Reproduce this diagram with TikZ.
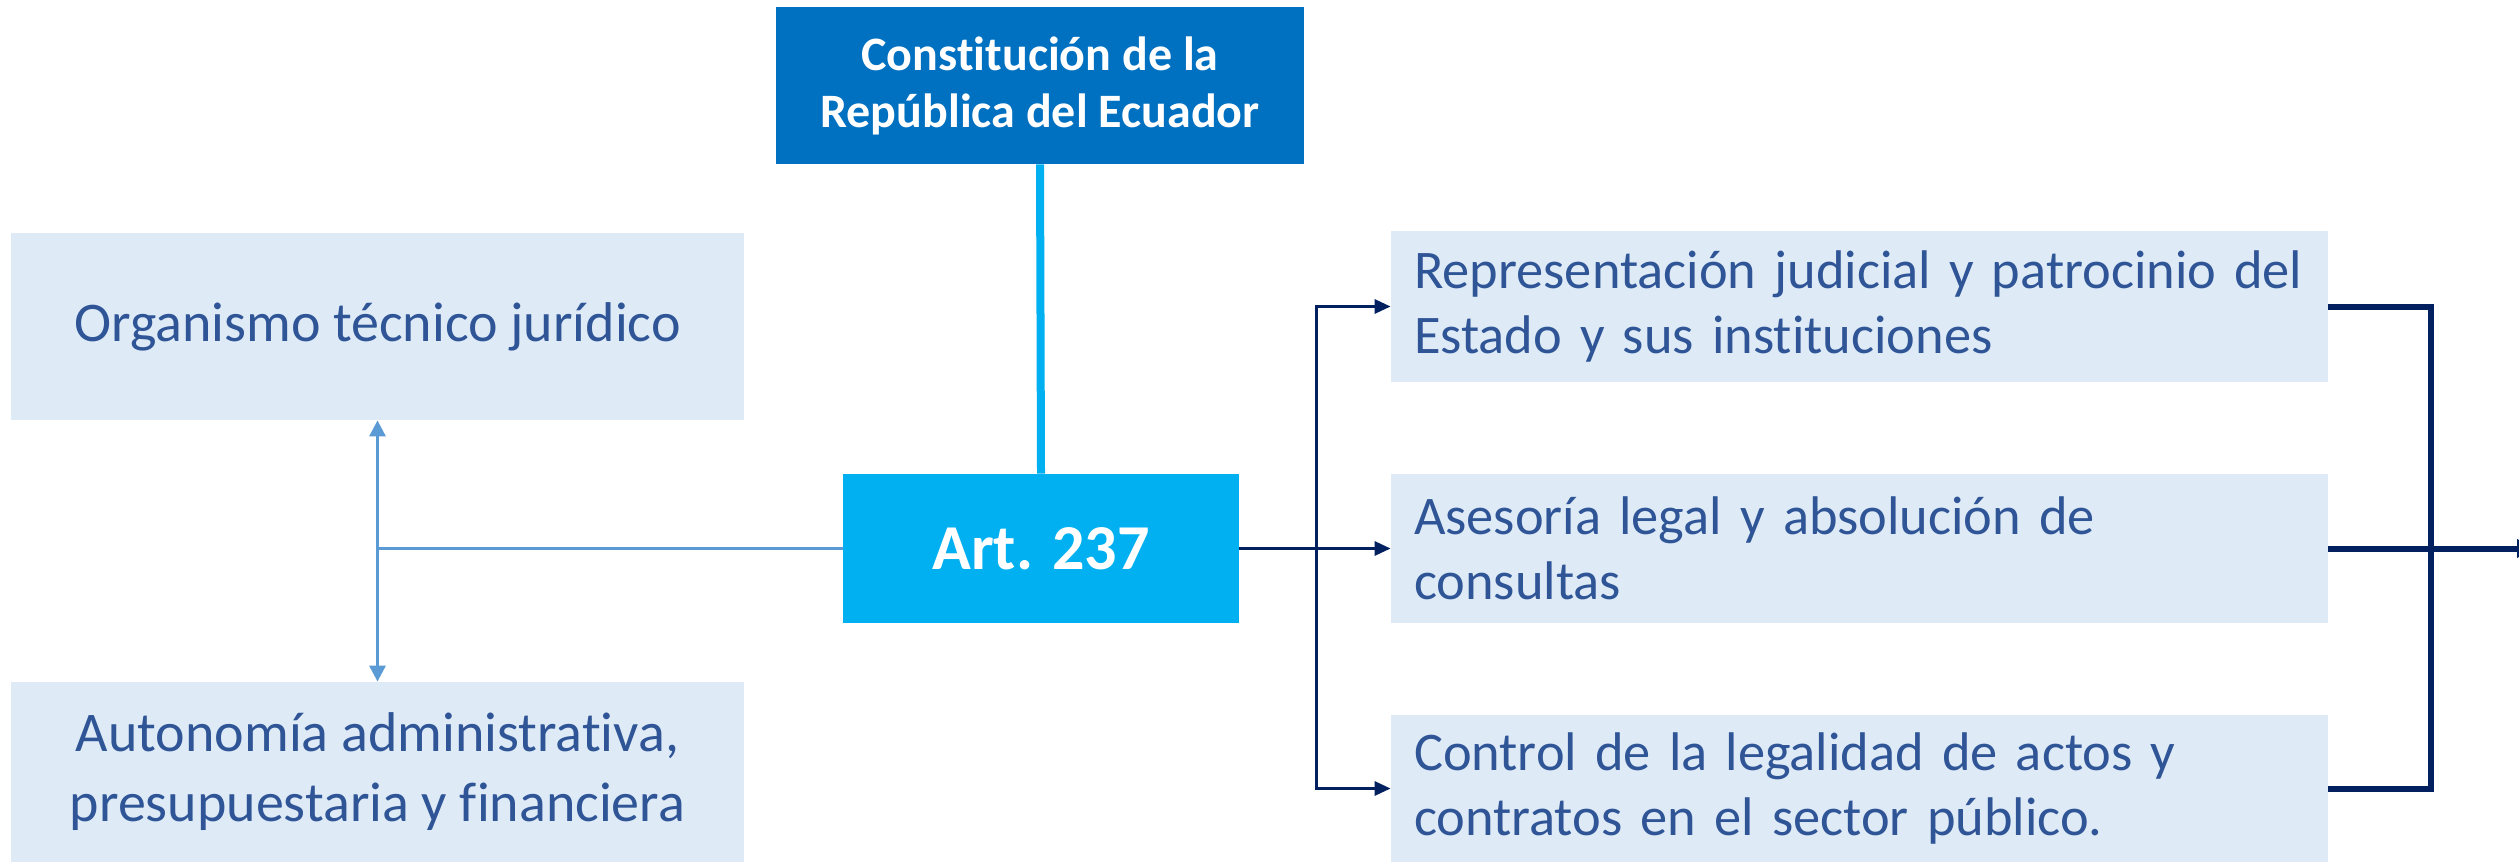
\documentclass[tikz,border=0pt]{standalone}
\usepackage{fontspec}
\setmainfont{Carlito}[Ligatures={NoCommon,NoDiscretionary,NoRare}]
\usetikzlibrary{arrows.meta}
\definecolor{topblue}{HTML}{0070C0}
\definecolor{artblue}{HTML}{00B0F0}
\definecolor{boxfill}{HTML}{DEEBF7}
\definecolor{boxtext}{HTML}{2F5597}
\definecolor{navy}{HTML}{002060}
\definecolor{lline}{HTML}{5B9BD5}
\tikzset{
  lbox/.style={fill=boxfill, text=boxtext, inner sep=0pt, align=center, font=\fontsize{28}{35}\selectfont},
  rbox/.style={fill=boxfill, text=boxtext, inner xsep=11.5pt, inner ysep=0pt, text width=445.5pt, align=left, font=\fontsize{27.2}{32.5}\selectfont},
  topbox/.style={fill=topblue, text=white, inner sep=0pt, align=center, font=\fontsize{24}{28.5}\selectfont\bfseries},
  artbox/.style={fill=artblue, text=white, inner sep=0pt, align=center, font=\fontsize{32}{38}\selectfont\bfseries},
  lconn/.style={draw=lline, line width=1.5pt},
  lhead/.style={-{Triangle[length=8pt,width=8pt]}},
  rconn/.style={draw=navy, line width=1.5pt},
  rhead/.style={-{Triangle[length=8pt,width=7pt]}},
  bconn/.style={draw=navy, line width=3pt, line join=miter},
}
\begin{document}
\begin{tikzpicture}[x=0.5pt,y=-0.5pt]
\useasboundingbox (0,0) rectangle (2519,862);
% nodes
\node[topbox, minimum width=264pt, minimum height=78.5pt] (top) at (1040,85.5) {Constitución de la\\República del Ecuador};
\node[artbox, minimum width=198pt, minimum height=74.5pt] (art) at (1041,548.5) {Art. 237};
\node[lbox, minimum width=366.5pt, minimum height=93.5pt] (org) at (377.5,326.5) {Organismo técnico jurídico};
\node[lbox, minimum width=366.5pt, minimum height=90pt] (aut) at (377.5,772) {Autonomía administrativa,\\presupuestaria y financiera};
\node[rbox, minimum height=75.5pt] (r1) at (1859.5,306.5) {\mbox{Representación judicial y patrocinio del}\\Estado y sus instituciones};
\node[rbox, minimum height=74.5pt] (r2) at (1859.5,548.5) {Asesoría legal y absolución de\\consultas};
\node[rbox, minimum height=73.5pt] (r3) at (1859.5,788.5) {Control de la legalidad de actos y\\contratos en el sector público.};
% connectors
\draw[draw=artblue, line width=4pt] (top.south) -- (art.north);
\coordinate (lj) at (org.south |- art.west);
\draw[lconn] (art.west) -- (lj);
\draw[lconn, lhead] (lj) -- (org.south);
\draw[lconn, lhead] (lj) -- (aut.north);
\coordinate (rj) at (1316,548.5);
\draw[rconn] (art.east) -- (rj);
\draw[rconn, rhead] (rj) -- (r2.west);
\draw[rconn, rhead] (rj) |- (r1.west);
\draw[rconn, rhead] (rj) |- (r3.west);
\coordinate (bar) at (2431,548.5);
\coordinate (out) at (2533,548.5);
\draw[bconn] (r1.east) -| (bar) |- (r3.east);
\draw[bconn, -{Triangle[length=8pt,width=9pt]}] (r2.east) -- (out);
\end{tikzpicture}
\end{document}
